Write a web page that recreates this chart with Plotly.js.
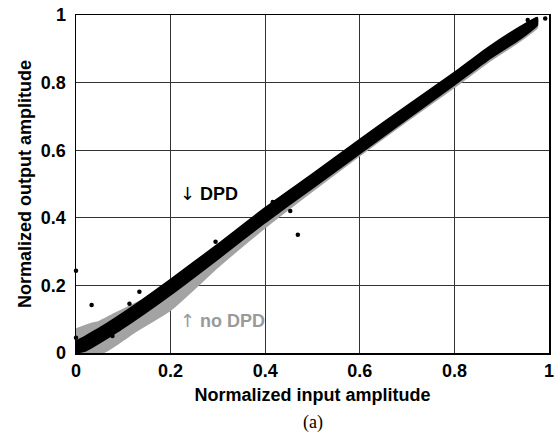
<!DOCTYPE html>
<html>
<head>
<meta charset="utf-8">
<script src="https://cdn.plot.ly/plotly-3.0.1.min.js"></script>
<style>
  html, body { margin: 0; padding: 0; background: #fff; }
  #chart { width: 556px; height: 443px; }
</style>
</head>
<body>
<div id="chart"></div>
<script>
// ---- Data ----
// "no DPD" (grey) cloud: upper and lower envelope
const noDpdUpperX = [0, 0.03, 0.05, 0.08, 0.12, 0.16, 0.20, 0.30, 0.40, 0.50, 0.60, 0.70, 0.80, 0.87, 0.94, 0.975];
const noDpdUpperY = [0.07, 0.085, 0.093, 0.115, 0.142, 0.17, 0.20, 0.30, 0.40, 0.50, 0.60, 0.70, 0.80, 0.87, 0.94, 0.975];
const noDpdLowerX = [0, 0.055, 0.08, 0.12, 0.20, 0.30, 0.40, 0.50, 0.60, 0.70, 0.80, 0.87, 0.94, 0.975];
const noDpdLowerY = [0, 0, 0.02, 0.059, 0.128, 0.255, 0.372, 0.48, 0.585, 0.687, 0.787, 0.86, 0.925, 0.963];

// "DPD" (black) cloud: upper and lower envelope
const dpdUpperX = [0, 0.02, 0.05, 0.12, 0.20, 0.30, 0.40, 0.50, 0.60, 0.70, 0.80, 0.87, 0.94, 0.975];
const dpdUpperY = [0.035, 0.05, 0.074, 0.138, 0.218, 0.322, 0.43, 0.53, 0.632, 0.732, 0.83, 0.903, 0.966, 0.993];
const dpdLowerX = [0, 0.02, 0.05, 0.12, 0.20, 0.30, 0.40, 0.50, 0.60, 0.70, 0.80, 0.87, 0.94, 0.975];
const dpdLowerY = [0, 0.006, 0.03, 0.093, 0.172, 0.278, 0.386, 0.488, 0.59, 0.692, 0.793, 0.866, 0.93, 0.97];

// Isolated DPD samples
const dpdOutlierX = [0.0, 0.0, 0.033, 0.077, 0.09, 0.096, 0.113, 0.134, 0.285, 0.295, 0.416, 0.453, 0.462, 0.469, 0.955, 0.992];
const dpdOutlierY = [0.243, 0.045, 0.142, 0.05, 0.07, 0.086, 0.146, 0.181, 0.27, 0.329, 0.447, 0.42, 0.458, 0.35, 0.985, 0.99];

const xTicks = [0, 0.2, 0.4, 0.6, 0.8, 1];
const xTickLabels = ['0', '0.2', '0.4', '0.6', '0.8', '1'];
const yTicks = [0, 0.2, 0.4, 0.6, 0.8, 1];
const yTickLabels = ['0', '0.2', '0.4', '0.6', '0.8', '1'];

function polygon(ux, uy, lx, ly) {
  return {
    x: ux.concat(lx.slice().reverse()),
    y: uy.concat(ly.slice().reverse())
  };
}

const gPoly = polygon(noDpdUpperX, noDpdUpperY, noDpdLowerX, noDpdLowerY);
const bPoly = polygon(dpdUpperX, dpdUpperY, dpdLowerX, dpdLowerY);

const FONT = 'Liberation Sans, Arial, sans-serif';
const SERIF = 'Liberation Serif, Times New Roman, serif';
const ARROW = '<span style="font-family:DejaVu Sans;font-weight:normal">';

const traces = [
  {
    type: 'scatter', mode: 'lines', name: 'no DPD',
    x: gPoly.x, y: gPoly.y, fill: 'toself',
    fillcolor: '#a3a3a3', line: {color: '#a3a3a3', width: 2, shape: 'spline', smoothing: 0.5},
    hoverinfo: 'skip', showlegend: false
  },
  {
    type: 'scatter', mode: 'lines', name: 'DPD',
    x: bPoly.x, y: bPoly.y, fill: 'toself',
    fillcolor: '#000000', line: {color: '#000000', width: 1.5, shape: 'spline', smoothing: 0.5},
    hoverinfo: 'skip', showlegend: false
  },
  {
    type: 'scatter', mode: 'markers', name: 'DPD samples',
    x: dpdOutlierX, y: dpdOutlierY,
    marker: {color: '#000', size: 4.5},
    cliponaxis: false, showlegend: false
  }
];

const axisCommon = {
  range: [0, 1],
  showgrid: true, gridcolor: '#333333', gridwidth: 1,
  zeroline: false,
  showline: true, linecolor: '#000', linewidth: 1.5, mirror: true,
  ticks: '',
  tickfont: {family: FONT, size: 18, color: '#000', weight: 'bold'},
  fixedrange: true
};

const layout = {
  width: 556, height: 443,
  margin: {l: 76, r: 7, t: 15, b: 90},
  paper_bgcolor: '#fff', plot_bgcolor: '#fff',
  showlegend: false,
  xaxis: Object.assign({}, axisCommon, {
    tickvals: xTicks, ticktext: xTickLabels,
    ticklabelstandoff: 1,
    title: {text: 'Normalized input amplitude', standoff: 8,
            font: {family: FONT, size: 18, color: '#000', weight: 'bold'}}
  }),
  yaxis: Object.assign({}, axisCommon, {
    tickvals: yTicks, ticktext: yTickLabels,
    ticklabelstandoff: 5,
    title: {text: 'Normalized output amplitude', standoff: 4,
            font: {family: FONT, size: 18, color: '#000', weight: 'bold'}}
  }),
  annotations: [
    {x: 0.281, y: 0.473, xref: 'x', yref: 'y', text: ARROW + '↓</span> DPD', showarrow: false,
     font: {family: FONT, size: 18, color: '#000', weight: 'bold'}},
    {x: 0.31, y: 0.096, xref: 'x', yref: 'y', text: ARROW + '↑</span> no DPD', showarrow: false,
     font: {family: FONT, size: 18, color: '#9a9a9a', weight: 'bold'}},
    {x: 0.5, y: -0.207, xref: 'paper', yref: 'paper', text: '(a)', showarrow: false,
     yanchor: 'middle',
     font: {family: SERIF, size: 18, color: '#000'}}
  ]
};

Plotly.newPlot('chart', traces, layout, {staticPlot: true, displayModeBar: false});
</script>
</body>
</html>
